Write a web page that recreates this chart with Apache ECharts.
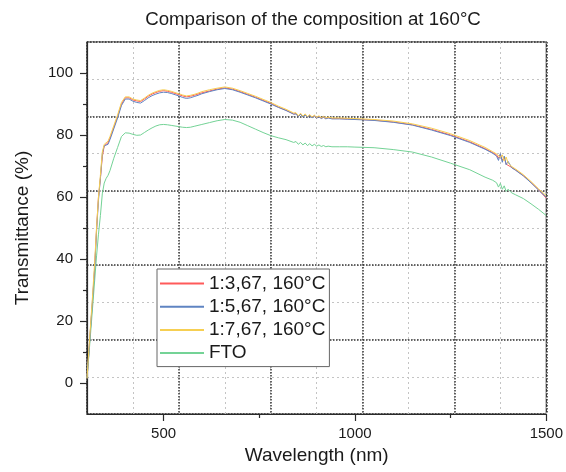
<!DOCTYPE html>
<html>
<head>
<meta charset="utf-8">
<script src="https://cdn.jsdelivr.net/npm/echarts@6/dist/echarts.min.js"></script>
<style>
  html, body { margin: 0; padding: 0; background: #fff; }
  #chart { width: 566px; height: 472px; }
</style>
</head>
<body>
<div id="chart"></div>
<script>
// Wavelength sampling (nm), shared by all spectra
const wavelengths = [
  300,305,310,315,320,325,330,335,340,345,
  350,355,360,370,380,390,400,410,420,430,
  440,450,460,470,480,490,500,510,520,530,
  540,550,560,570,580,590,600,620,640,660,
  680,700,720,740,760,780,800,820,840,846,
  852,858,864,870,876,882,888,894,900,906,
  912,918,924,930,940,960,980,1000,1050,1100,
  1150,1200,1250,1300,1340,1360,1370,1375,1380,1385,
  1390,1395,1400,1410,1420,1440,1460,1480,1500
];

// Transmittance (%) per sample
const t_1_3_67 = [
  1.5,10,19,27,37,50,60,66,73,76.5,
  77,77.5,79,82.5,86,90,92,92,91.3,91,
  90.8,91.6,92.5,93.2,93.7,94.1,94.3,94.1,93.8,93.4,
  93,92.6,92.3,92.5,92.8,93.2,93.6,94.2,94.8,95.2,
  94.8,94,93.1,92.2,91.2,90.2,89,88,86.8,86.9,
  86.0,86.8,85.9,86.6,85.7,86.4,85.6,86.2,85.5,86.0,
  85.4,85.8,85.3,85.6,85.3,85.3,85.2,85.1,84.8,84.2,
  83.3,81.8,80.0,77.8,75.6,74.3,73.6,72.5,73.8,71.8,
  72.8,70.6,71.2,69.5,68.7,66.9,64.7,62.3,59.6
];
const t_1_5_67 = [
  1.5,10,19,28,37,49,59,66,74,76.5,
  76.5,77,78.5,82,85.5,89.5,91.6,91.6,90.9,90.5,
  90.3,91.1,92,92.7,93.2,93.6,93.8,93.7,93.4,93,
  92.6,92.1,91.8,92,92.4,92.8,93.3,94,94.6,95,
  94.6,93.8,92.9,92,91,90,88.9,87.9,86.7,86.8,
  85.9,86.7,85.8,86.5,85.6,86.3,85.5,86.1,85.4,85.9,
  85.3,85.7,85.2,85.5,85.2,85.2,85.1,85.0,84.7,84.1,
  83.2,81.6,79.8,77.6,75.4,74.1,73.2,71.8,74.0,71.2,
  73.2,70.4,71.5,69.4,68.6,66.8,64.6,62.2,59.9
];
const t_1_7_67 = [
  1.5,11,20,29,39,50,60,67,74.5,77,
  77.5,78,79.5,83,86.5,90.5,92.3,92.3,91.6,91.3,
  91.1,91.9,92.8,93.5,94,94.4,94.6,94.4,94.1,93.7,
  93.3,92.9,92.6,92.8,93.1,93.5,94,94.6,95.1,95.5,
  95.1,94.3,93.4,92.5,91.5,90.5,89.3,88.3,87.1,87.2,
  86.2,87.0,86.1,86.8,85.9,86.6,85.8,86.4,85.7,86.2,
  85.6,86.0,85.5,85.8,85.5,85.5,85.4,85.3,85.0,84.5,
  83.6,82.2,80.4,78.2,76.0,74.6,73.9,74.5,72.8,73.6,
  71.6,72.9,71.0,69.8,69.0,67.2,65.0,62.6,60.4
];
const t_fto = [
  1.5,9,17,25,33,41,48,54,61,64.5,
  66,67,68.5,72.5,76,79.5,80.7,80.6,80.2,79.9,
  80,80.8,81.6,82.3,82.9,83.3,83.4,83.3,83.1,82.9,
  82.7,82.5,82.4,82.5,82.8,83.1,83.4,84,84.6,85,
  84.8,84.1,83,81.9,80.8,79.8,79.1,78.5,77.6,77.9,
  77.0,77.6,76.8,77.4,76.6,77.2,76.5,77.0,76.4,76.8,
  76.3,76.6,76.2,76.4,76.2,76.2,76.2,76.1,75.9,75.3,
  74.5,72.9,70.9,68.8,66.4,65.4,64.6,63.2,64.4,62.5,
  63.6,61.8,62.5,61.3,60.7,59.5,57.8,56.0,54.0
];

const seriesNames = ['1:3,67, 160°C', '1:5,67, 160°C', '1:7,67, 160°C', 'FTO'];
const seriesValues = [t_1_3_67, t_1_5_67, t_1_7_67, t_fto];
const seriesColors = ['#ff5a5a', '#5f84c2', '#f6cf52', '#74d396'];

const xTickValues = [500, 1000, 1500];
const xMinorTicks = [750, 1250];
const yTickValues = [0, 20, 40, 60, 80, 100];
const yMinorTicks = [10, 30, 50, 70, 90];

const FONT = 'Liberation Sans, Arial, sans-serif';
const INK = '#1a1a1a';
const AXIS = '#2a2a2a';

const chart = echarts.init(document.getElementById('chart'), null, { renderer: 'canvas' });

// Invisible axes that only carry the dotted grid lines
function gridAxis(min, max, interval, color, type, width) {
  return {
    type: 'value', min, max, interval,
    axisLine: { show: false, onZero: false }, axisTick: { show: false }, axisLabel: { show: false },
    splitLine: { show: true, lineStyle: { color, type, width } }
  };
}

const plainNumber = v => String(v);

const option = {
  animation: false,
  backgroundColor: '#fff',
  title: {
    text: 'Comparison of the composition at 160°C',
    left: 313, top: 10, textAlign: 'center', padding: 0,
    textStyle: { fontFamily: FONT, fontSize: 18.7, fontWeight: 'normal', color: INK }
  },
  grid: {
    left: 87, right: 18, top: 42, bottom: 58,
    show: true, borderColor: AXIS, borderWidth: 1.2, backgroundColor: 'transparent'
  },
  legend: {
    orient: 'vertical', left: 157, top: 269,
    padding: [5, 4, 4, 3],
    itemWidth: 44, itemHeight: 2, itemGap: 4.2,
    icon: 'rect',
    borderColor: '#666', borderWidth: 1, backgroundColor: '#fff',
    textStyle: { fontFamily: FONT, fontSize: 19, color: INK, lineHeight: 19 },
    data: seriesNames
  },
  xAxis: [
    {
      type: 'value', min: 300, max: 1500, position: 'bottom',
      name: 'Wavelength (nm)', nameLocation: 'middle', nameGap: 30,
      nameTextStyle: { fontFamily: FONT, fontSize: 19, color: INK },
      axisLine: { show: true, onZero: false, lineStyle: { color: AXIS, width: 1.2 } },
      axisTick: { show: true, inside: false, length: 7, customValues: xTickValues, lineStyle: { color: AXIS, width: 1.2 } },
      axisLabel: { show: true, customValues: xTickValues, formatter: plainNumber, margin: 12, fontFamily: FONT, fontSize: 15, color: INK },
      splitLine: { show: false }
    },
    {
      type: 'value', min: 300, max: 1500, position: 'bottom',
      axisLine: { show: false, onZero: false },
      axisTick: { show: true, inside: false, length: 4, customValues: xMinorTicks, lineStyle: { color: AXIS, width: 1.2 } },
      axisLabel: { show: false },
      splitLine: { show: false }
    },
    gridAxis(300, 1500, 120, '#c4c4c4', [2, 3], 1),
    gridAxis(300, 1500, 240, '#333', [1.5, 1.5], 1.5)
  ],
  yAxis: [
    {
      type: 'value', min: -10, max: 110, position: 'left',
      name: 'Transmittance (%)', nameLocation: 'middle', nameGap: 55,
      nameTextStyle: { fontFamily: FONT, fontSize: 19, color: INK },
      axisLine: { show: true, onZero: false, lineStyle: { color: AXIS, width: 1.2 } },
      axisTick: { show: true, inside: false, length: 7, customValues: yTickValues, lineStyle: { color: AXIS, width: 1.2 } },
      axisLabel: { show: true, customValues: yTickValues, formatter: plainNumber, margin: 14, fontFamily: FONT, fontSize: 15, color: INK },
      splitLine: { show: false }
    },
    {
      type: 'value', min: -10, max: 110, position: 'left',
      axisLine: { show: false, onZero: false },
      axisTick: { show: true, inside: false, length: 4, customValues: yMinorTicks, lineStyle: { color: AXIS, width: 1.2 } },
      axisLabel: { show: false },
      splitLine: { show: false }
    },
    gridAxis(-10, 110, 12, '#c4c4c4', [2, 3], 1),
    gridAxis(-10, 110, 24, '#333', [1.5, 1.5], 1.5)
  ],
  series: seriesNames.map((name, i) => ({
    name,
    type: 'line',
    xAxisIndex: 0, yAxisIndex: 0,
    showSymbol: false, symbol: 'none',
    lineStyle: { color: seriesColors[i], width: 1 },
    itemStyle: { color: seriesColors[i] },
    data: wavelengths.map((w, k) => [w, seriesValues[i][k]]),
    z: 3 + (i === 3 ? 0 : i)
  }))
};

chart.setOption(option);
</script>
</body>
</html>
